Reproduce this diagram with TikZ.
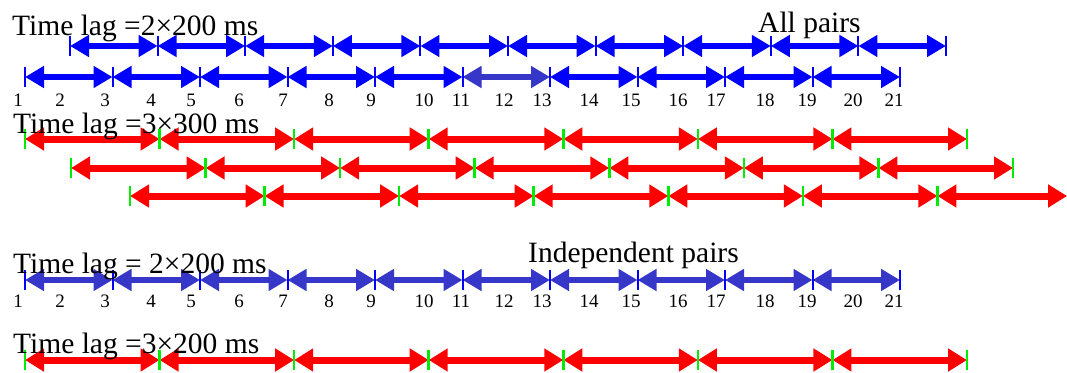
\documentclass[tikz,border=0pt]{standalone}
\usepackage{fontspec}
\setmainfont{Liberation Serif}
\usetikzlibrary{arrows.meta}
\definecolor{pureblue}{RGB}{0,0,255}
\definecolor{indigo}{RGB}{54,54,200}
\definecolor{tickgreen}{RGB}{0,235,0}
\definecolor{redline}{RGB}{255,0,0}
\begin{document}
\begin{tikzpicture}[x=1pt,y=-1pt,
  tipb/.tip={Triangle[length=19pt,width=21pt]},
  tipr/.tip={Triangle[length=19pt,width=22pt]},
  bluearrow/.style={draw=pureblue,line width=6pt,tipb-tipb},
  indigoarrow/.style={draw=indigo,line width=6pt,tipb-tipb},
  redarrow/.style={draw=redline,line width=7pt,tipr-tipr},
  bluetick/.style={draw=pureblue,line width=2pt},
  greentick/.style={draw=tickgreen,line width=2.5pt},
  title/.style={anchor=base west,inner sep=0pt,font=\fontsize{29.5pt}{30pt}\selectfont},
  num/.style={anchor=base,inner sep=0pt,font=\fontsize{19pt}{20pt}\selectfont}]
\useasboundingbox (0,0) rectangle (1067,372);

% ---------- all pairs, lag 2 (two shifted rows) ----------
\foreach \i in {0,...,10} \coordinate (a\i) at ({70+87.6*\i},46);
\foreach \i in {0,...,9} {\pgfmathtruncatemacro\j{\i+1}\draw[bluearrow] (a\i) -- (a\j);}
\foreach \i in {0,...,10} \draw[bluetick] ([yshift=-10pt]a\i) -- ([yshift=10pt]a\i);

\foreach \i in {0,...,10} \coordinate (b\i) at ({25+87.5*\i},77);
\foreach \i in {0,1,2,3,4,6,7,8,9} {\pgfmathtruncatemacro\j{\i+1}\draw[bluearrow] (b\i) -- (b\j);}
\draw[indigoarrow] (b5) -- (b6);
\foreach \i in {0,...,10} \draw[bluetick] ([yshift=-10pt]b\i) -- ([yshift=10pt]b\i);

% frame numbers under the first lag-2 block
\foreach \n/\x in {1/18,2/60,3/105,4/151,5/191,6/239,7/283,8/329,9/371,10/424,
                   11/461,12/504,13/542,14/589,15/631,16/678,17/716,18/765,19/807,20/853,21/894}
  \node[num] (na\n) at (\x,106) {\n};

% ---------- all pairs, lag 3 (three shifted rows) ----------
\foreach \i in {0,...,7} \coordinate (r\i) at ({25+134.57*\i},139);
\foreach \i in {0,...,6} {\pgfmathtruncatemacro\j{\i+1}\draw[redarrow] (r\i) -- (r\j);}
\foreach \i in {0,...,7} \draw[greentick] ([yshift=-10pt]r\i) -- ([yshift=10pt]r\i);

\foreach \i in {0,...,7} \coordinate (s\i) at ({71+134.57*\i},168);
\foreach \i in {0,...,6} {\pgfmathtruncatemacro\j{\i+1}\draw[redarrow] (s\i) -- (s\j);}
\foreach \i in {0,...,7} \draw[greentick] ([yshift=-10pt]s\i) -- ([yshift=10pt]s\i);

\foreach \i in {0,...,6} \coordinate (t\i) at ({130+134.57*\i},196);
\coordinate (tend) at (1067,196);
\foreach \i in {0,...,5} {\pgfmathtruncatemacro\j{\i+1}\draw[redarrow] (t\i) -- (t\j);}
\draw[redarrow] (t6) -- (tend);
\foreach \i in {0,...,6} \draw[greentick] ([yshift=-10pt]t\i) -- ([yshift=10pt]t\i);

% ---------- independent pairs, lag 2 ----------
\foreach \i in {0,...,10} \coordinate (c\i) at ({25+87.5*\i},280);
\foreach \i in {0,...,9} {\pgfmathtruncatemacro\j{\i+1}\draw[indigoarrow] (c\i) -- (c\j);}
\foreach \i in {0,...,10} \draw[bluetick] ([yshift=-10pt]c\i) -- ([yshift=10pt]c\i);

\foreach \n/\x in {1/18,2/60,3/105,4/151,5/191,6/239,7/283,8/329,9/371,10/424,
                   11/461,12/504,13/542,14/589,15/631,16/678,17/716,18/765,19/807,20/853,21/894}
  \node[num] (nb\n) at (\x,307) {\n};

% ---------- independent pairs, lag 3 ----------
\foreach \i in {0,...,7} \coordinate (d\i) at ({25+134.57*\i},360);
\foreach \i in {0,...,6} {\pgfmathtruncatemacro\j{\i+1}\draw[redarrow] (d\i) -- (d\j);}
\foreach \i in {0,...,7} \draw[greentick] ([yshift=-10pt]d\i) -- ([yshift=10pt]d\i);

% ---------- labels ----------
\node[title] (lag1) at (12,35) {Time lag =2×200 ms};
\node[title] (allp) at (758,32) {All pairs};
\node[title] (lag2) at (13,133) {Time lag =3×300 ms};
\node[title] (indp) at (528,262) {Independent pairs};
\node[title] (lag3) at (13,273) {Time lag = 2×200 ms};
\node[title] (lag4) at (13,353) {Time lag =3×200 ms};
\end{tikzpicture}
\end{document}
